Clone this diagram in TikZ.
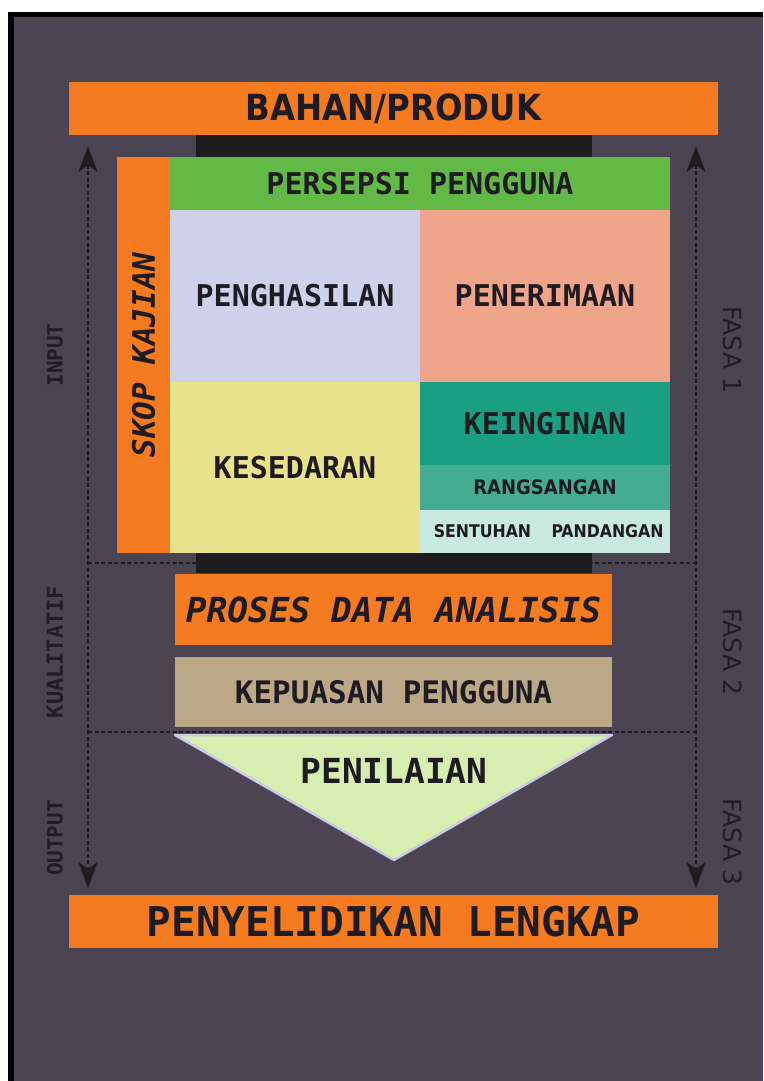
\documentclass[tikz,border=0pt]{standalone}
\usepackage{fontspec}
\setmainfont{DejaVu Sans}
\newfontfamily\monofnt{DejaVu Sans Mono}
\newfontfamily\condfnt{DejaVu Sans Condensed}[BoldFont={DejaVu Sans Condensed Bold}]
\usetikzlibrary{arrows.meta}
\definecolor{bgdark}{HTML}{4A4453}
\definecolor{inkdark}{HTML}{1E1B22}
\definecolor{labelink}{HTML}{211D26}
\definecolor{barorange}{HTML}{F47B20}
\definecolor{barblack}{HTML}{1E1C1F}
\definecolor{persgreen}{HTML}{62B946}
\definecolor{lavender}{HTML}{CED1EA}
\definecolor{salmon}{HTML}{EFA58A}
\definecolor{paleyellow}{HTML}{E9E28C}
\definecolor{teal}{HTML}{1A9F82}
\definecolor{lightteal}{HTML}{44AC93}
\definecolor{mint}{HTML}{C8E9DE}
\definecolor{tan}{HTML}{BBA886}
\definecolor{palegreen}{HTML}{D8EDB0}
\definecolor{triedge}{HTML}{C9C9E6}
\tikzset{
  cell/.style = {inner sep=0pt, text=inkdark, minimum width=#1},
  mono/.style = {font=\monofnt\bfseries\fontsize{#1}{#1}\selectfont},
  cond/.style = {font=\condfnt\bfseries\fontsize{#1}{#1}\selectfont},
  side/.style = {text=labelink, inner sep=0pt},
  dashline/.style = {draw=barblack, line width=1.3pt, dash pattern=on 4pt off 2.5pt},
  bothtips/.style = {arrows={Stealth[length=26pt,width=19pt,inset=7pt]-Stealth[length=26pt,width=19pt,inset=7pt]}}
}

\begin{document}
\begin{tikzpicture}[x=1pt,y=-1pt]
  \useasboundingbox (0,0) rectangle (763,1081);
  \fill[white] (0,0) rectangle (763,1081);
  \fill[black] (8,12) rectangle (763,1081);
  \fill[bgdark] (14,17) rectangle (763,1081);
  % dashed frame with arrows
  \coordinate (lTop) at (88,146);
  \coordinate (lBot) at (88,888);
  \coordinate (rTop) at (696,146);
  \coordinate (rBot) at (696,888);
  \coordinate (cutA1) at (88,563);
  \coordinate (cutA2) at (696,563);
  \coordinate (cutB1) at (88,732);
  \coordinate (cutB2) at (696,732);
  \draw[dashline,bothtips] (lTop) -- (lBot);
  \draw[dashline,bothtips] (rTop) -- (rBot);
  \draw[dashline] (cutA1) -- (cutA2);
  \draw[dashline] (cutB1) -- (cutB2);
  % side labels
  \node[side,mono=21,rotate=90] (input) at (55,355) {INPUT};
  \node[side,mono=22,rotate=90] (kual) at (55,652) {KUALITATIF};
  \node[side,mono=21,rotate=90] (output) at (55,838) {OUTPUT};
  \node[side,font=\fontsize{25}{25}\selectfont,rotate=-90] (fasa1) at (733,350) {FASA 1};
  \node[side,font=\fontsize{25}{25}\selectfont,rotate=-90] (fasa2) at (733,652) {FASA 2};
  \node[side,font=\fontsize{25}{25}\selectfont,rotate=-90] (fasa3) at (733,842) {FASA 3};
  % top and bottom bars
  \node[cell=649pt,minimum height=53pt,fill=barorange,cond=36] (bahan) at (393.5,108.5) {BAHAN/PRODUK};
  \fill[barblack] (196,135) rectangle (592,157);
  \fill[barblack] (196,553) rectangle (592,573);
  \node[cell=396pt,minimum height=53pt,fill=barorange,mono=31,rotate=90] (skop) at (143.5,355) {\itshape SKOP KAJIAN};
  \node[cell=500pt,minimum height=53pt,fill=persgreen,mono=30] (persepsi) at (420,183.5) {PERSEPSI PENGGUNA};
  \node[cell=250pt,minimum height=172pt,fill=lavender,mono=30] (hasil) at (295,296) {PENGHASILAN};
  \node[cell=250pt,minimum height=172pt,fill=salmon,mono=30] (terima) at (545,296) {PENERIMAAN};
  \node[cell=250pt,minimum height=171pt,fill=paleyellow,mono=30] (sedar) at (295,467.5) {KESEDARAN};
  \node[cell=250pt,minimum height=83pt,fill=teal,mono=30] (ingin) at (545,423.5) {KEINGINAN};
  \node[cell=250pt,minimum height=45pt,fill=lightteal,cond=20] (rangsang) at (545,487.5) {RANGSANGAN};
  \node[cell=125pt,minimum height=43pt,fill=mint,cond=17.5] (sentuh) at (482.5,531.5) {SENTUHAN};
  \node[cell=125pt,minimum height=43pt,fill=mint,cond=17.5] (pandang) at (607.5,531.5) {PANDANGAN};
  % middle stack
  \node[cell=437pt,minimum height=71pt,fill=barorange,mono=34.5] (proses) at (393.5,609.5) {\itshape PROSES DATA ANALISIS};
  \node[cell=437pt,minimum height=70pt,fill=tan,mono=31] (puas) at (393.5,692) {KEPUASAN PENGGUNA};
  \filldraw[fill=palegreen,draw=triedge,line width=2.5pt,line join=round] (175,735) -- (612,735) -- (394,860) -- cycle;
  \node[inner sep=0pt,text=inkdark,mono=34.5] (nilai) at (394,771) {PENILAIAN};
  \node[cell=649pt,minimum height=53pt,fill=barorange,mono=41] (lengkap) at (393.5,921.5) {PENYELIDIKAN LENGKAP};
\end{tikzpicture}
\end{document}
